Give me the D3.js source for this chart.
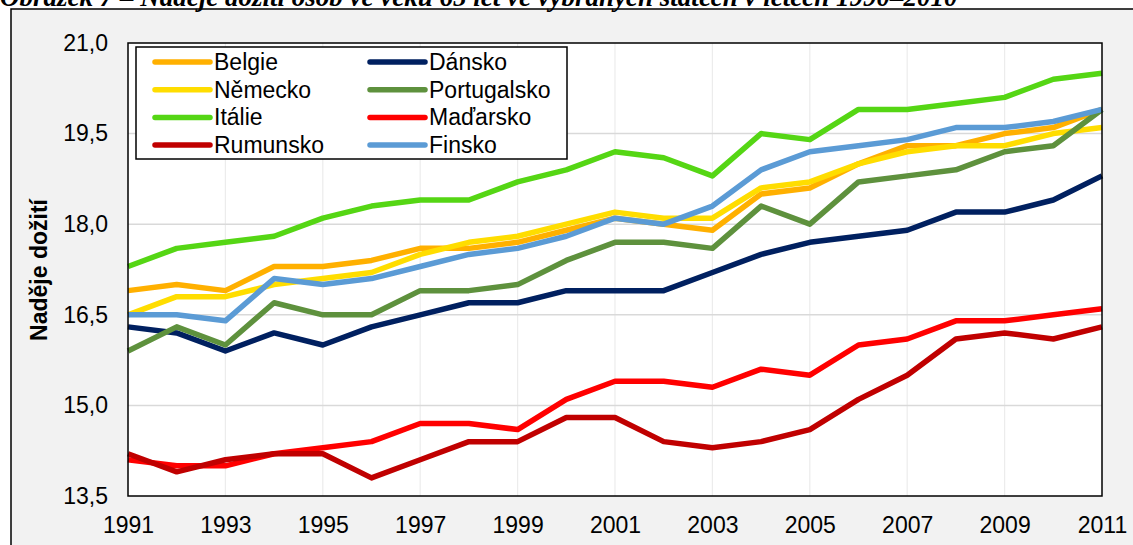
<!DOCTYPE html>
<html>
<head>
<meta charset="utf-8">
<script src="https://cdn.jsdelivr.net/npm/d3@7"></script>
<style>
  body { margin: 0; background: #fff; }
  svg text { font-family: Arial, "Liberation Sans", sans-serif; }
</style>
</head>
<body>
<script>

var years = d3.range(1991, 2012);
var countries = ["Belgie", "Dánsko", "Německo", "Portugalsko", "Itálie", "Maďarsko", "Rumunsko", "Finsko"];
var colors = ["#ffb000", "#002060", "#ffdd00", "#5e913d", "#55d614", "#ff0000", "#c00000", "#5b9bd5"];

var belgie      = [16.9, 17.0, 16.9, 17.3, 17.3, 17.4, 17.6, 17.6, 17.7, 17.9, 18.1, 18.0, 17.9, 18.5, 18.6, 19.0, 19.3, 19.3, 19.5, 19.6, 19.9];
var dansko      = [16.3, 16.2, 15.9, 16.2, 16.0, 16.3, 16.5, 16.7, 16.7, 16.9, 16.9, 16.9, 17.2, 17.5, 17.7, 17.8, 17.9, 18.2, 18.2, 18.4, 18.8];
var nemecko     = [16.5, 16.8, 16.8, 17.0, 17.1, 17.2, 17.5, 17.7, 17.8, 18.0, 18.2, 18.1, 18.1, 18.6, 18.7, 19.0, 19.2, 19.3, 19.3, 19.5, 19.6];
var portugalsko = [15.9, 16.3, 16.0, 16.7, 16.5, 16.5, 16.9, 16.9, 17.0, 17.4, 17.7, 17.7, 17.6, 18.3, 18.0, 18.7, 18.8, 18.9, 19.2, 19.3, 19.9];
var italie      = [17.3, 17.6, 17.7, 17.8, 18.1, 18.3, 18.4, 18.4, 18.7, 18.9, 19.2, 19.1, 18.8, 19.5, 19.4, 19.9, 19.9, 20.0, 20.1, 20.4, 20.5];
var madarsko    = [14.1, 14.0, 14.0, 14.2, 14.3, 14.4, 14.7, 14.7, 14.6, 15.1, 15.4, 15.4, 15.3, 15.6, 15.5, 16.0, 16.1, 16.4, 16.4, 16.5, 16.6];
var rumunsko    = [14.2, 13.9, 14.1, 14.2, 14.2, 13.8, 14.1, 14.4, 14.4, 14.8, 14.8, 14.4, 14.3, 14.4, 14.6, 15.1, 15.5, 16.1, 16.2, 16.1, 16.3];
var finsko      = [16.5, 16.5, 16.4, 17.1, 17.0, 17.1, 17.3, 17.5, 17.6, 17.8, 18.1, 18.0, 18.3, 18.9, 19.2, 19.3, 19.4, 19.6, 19.6, 19.7, 19.9];

var values = [belgie, dansko, nemecko, portugalsko, italie, madarsko, rumunsko, finsko];
var yTicks = [13.5, 15.0, 16.5, 18.0, 19.5, 21.0];
var xTicks = [1991, 1993, 1995, 1997, 1999, 2001, 2003, 2005, 2007, 2009, 2011];

var title = "Obrázek 7 – Naděje dožití osob ve věku 65 let ve vybraných státech v letech 1990–2010";
var yTitle = "Naděje dožití";

var width = 1133, height = 545;
var svg = d3.select("body").append("svg")
    .attr("width", width)
    .attr("height", height);

// outer chart frame
svg.append("rect")
    .attr("x", 11).attr("y", 9)
    .attr("width", width + 20).attr("height", height + 20)
    .attr("fill", "#f2f2f2")
    .attr("stroke", "#000")
    .attr("stroke-width", 1.5);

// title, cut at the top like in the source page
svg.append("text")
    .attr("x", 0).attr("y", 6)
    .style("font-family", "'Liberation Serif', 'Times New Roman', serif")
    .style("font-weight", "bold")
    .style("font-style", "italic")
    .style("font-size", "27px")
    .text(title);

var x = d3.scaleLinear().domain([1991, 2011]).range([128, 1102]);
var y = d3.scaleLinear().domain([13.5, 21]).range([496, 43]);

svg.append("rect")
    .attr("x", x(1991)).attr("y", y(21))
    .attr("width", x(2011) - x(1991)).attr("height", y(13.5) - y(21))
    .attr("fill", "#fff");

// vertical grid
svg.append("g")
    .selectAll("line")
    .data(xTicks.slice(1, -1))
    .enter().append("line")
    .attr("x1", function(d){ return x(d) }).attr("x2", function(d){ return x(d) })
    .attr("y1", y(21)).attr("y2", y(13.5))
    .attr("stroke", "#ececec")
    .attr("stroke-width", 1.2);

// horizontal grid
svg.append("g")
    .selectAll("line")
    .data(yTicks.slice(1, -1))
    .enter().append("line")
    .attr("x1", x(1991)).attr("x2", x(2011))
    .attr("y1", function(d){ return y(d) }).attr("y2", function(d){ return y(d) })
    .attr("stroke", "#d9d9d9")
    .attr("stroke-width", 1.5);

var fmt = function(d){ return d3.format(".1f")(d).replace(".", ","); };

var yAxis = svg.append("g")
    .attr("transform", "translate(" + x(1991) + ",0)")
    .call(d3.axisLeft(y).tickValues(yTicks).tickFormat(fmt).tickSize(0).tickPadding(20));
yAxis.select(".domain").remove();
yAxis.selectAll("text").style("font-size", "23px").attr("fill", "#000");

var xAxis = svg.append("g")
    .attr("transform", "translate(0," + y(13.5) + ")")
    .call(d3.axisBottom(x).tickValues(xTicks).tickFormat(d3.format("d")).tickSize(0).tickPadding(21));
xAxis.select(".domain").remove();
xAxis.selectAll("text").style("font-size", "23px").attr("fill", "#000");

svg.append("text")
    .attr("transform", "translate(47,270) rotate(-90)")
    .attr("text-anchor", "middle")
    .style("font-size", "23px")
    .style("font-weight", "bold")
    .text(yTitle);

var line = d3.line()
    .x(function(d, i){ return x(years[i]) })
    .y(function(d){ return y(d) });

svg.append("g")
    .selectAll("path")
    .data(values)
    .enter().append("path")
    .attr("d", line)
    .attr("fill", "none")
    .attr("stroke", function(d, i){ return colors[i] })
    .attr("stroke-width", 5.5)
    .attr("stroke-linejoin", "round");

// plot border
svg.append("rect")
    .attr("x", x(1991)).attr("y", y(21))
    .attr("width", x(2011) - x(1991)).attr("height", y(13.5) - y(21))
    .attr("fill", "none")
    .attr("stroke", "#000")
    .attr("stroke-width", 1.5);

// legend
var legend = svg.append("g").attr("transform", "translate(136,47)");
legend.append("rect")
    .attr("width", 431).attr("height", 112)
    .attr("fill", "#fff")
    .attr("stroke", "#000")
    .attr("stroke-width", 1.5);

var item = legend.selectAll("g.item")
    .data(countries)
    .enter().append("g")
    .attr("class", "item")
    .attr("transform", function(d, i){
        return "translate(" + (i % 2 ? 234 : 19) + "," + (15 + Math.floor(i / 2) * 27.7) + ")";
    });
item.append("line")
    .attr("x1", 0).attr("x2", 55)
    .attr("stroke", function(d, i){ return colors[i] })
    .attr("stroke-width", 5.5)
    .attr("stroke-linecap", "round");
item.append("text")
    .attr("x", 59).attr("dy", "0.35em")
    .style("font-size", "23px")
    .text(function(d){ return d });

</script>
</body>
</html>
